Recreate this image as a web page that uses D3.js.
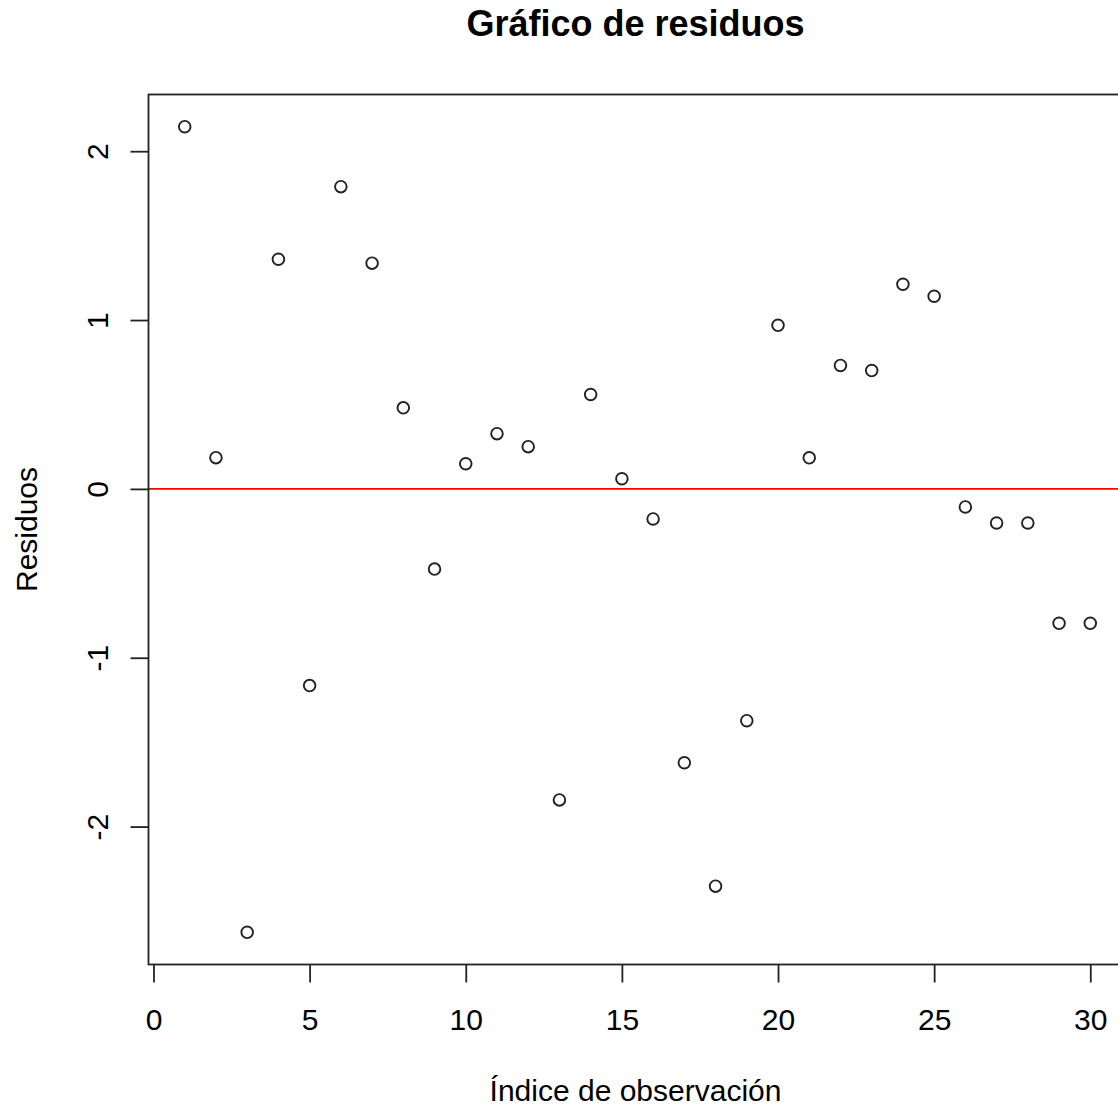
<!DOCTYPE html>
<html>
<head>
<meta charset="utf-8">
<script src="https://cdn.jsdelivr.net/npm/d3@7"></script>
<style>
  body { margin: 0; background: #fff; }
  text { font-family: "Liberation Sans", Arial, sans-serif; fill: #000; }
</style>
</head>
<body>
<script>
var obsIndex = [1, 2, 3, 4, 5, 6, 7, 8, 9, 10, 11, 12, 13, 14, 15,
                16, 17, 18, 19, 20, 21, 22, 23, 24, 25, 26, 27, 28, 29, 30];
var residuos = [2.145, 0.185, -2.626, 1.36, -1.165, 1.79, 1.337, 0.48, -0.475, 0.149,
                0.327, 0.25, -1.842, 0.559, 0.06, -0.178, -1.622, -2.353, -1.373, 0.969,
                0.184, 0.731, 0.701, 1.212, 1.141, -0.107, -0.202, -0.202, -0.796, -0.796];
var xTicks = [0, 5, 10, 15, 20, 25, 30];
var yTicks = [-2, -1, 0, 1, 2];

function init() {
    var W = 1118, H = 1107;
    var boxLeft = 148.5, boxRight = 1126.5, boxTop = 94.5, boxBottom = 964.5;

    // R style 4% extension of the data range
    function padExtent(arr) {
        var e = d3.extent(arr);
        var d = (e[1] - e[0]) * 0.04;
        return [e[0] - d, e[1] + d];
    }

    // plain hyphen for negatives, like R
    var fmt = function(d) { return String(d); };

    var xScale = d3.scaleLinear().domain(padExtent(obsIndex)).range([boxLeft, boxRight]);
    var yScale = d3.scaleLinear().domain(padExtent(residuos)).range([boxBottom, boxTop]);

    var svg = d3.select("body").append("svg")
        .attr("width", W)
        .attr("height", H);

    svg.append("defs").append("clipPath").attr("id", "plotclip")
        .append("rect")
        .attr("x", boxLeft).attr("y", boxTop)
        .attr("width", boxRight - boxLeft).attr("height", boxBottom - boxTop);

    // zero line
    svg.append("line")
        .attr("clip-path", "url(#plotclip)")
        .attr("x1", boxLeft).attr("x2", boxRight)
        .attr("y1", yScale(0)).attr("y2", yScale(0))
        .attr("stroke", "#ff0000")
        .attr("stroke-width", 1.8);

    // points
    svg.selectAll("circle.pt")
        .data(obsIndex)
        .enter()
        .append("circle")
        .attr("class", "pt")
        .attr("cx", function(d) { return xScale(d); })
        .attr("cy", function(d, i) { return yScale(residuos[i]); })
        .attr("r", 5.8)
        .attr("fill", "none")
        .attr("stroke", "#222")
        .attr("stroke-width", 1.9);

    // box
    svg.append("rect")
        .attr("x", boxLeft).attr("y", boxTop)
        .attr("width", boxRight - boxLeft).attr("height", boxBottom - boxTop)
        .attr("fill", "none")
        .attr("stroke", "#222")
        .attr("stroke-width", 1.8);

    // X axis
    var xAxis = svg.append("g")
        .attr("transform", "translate(0," + boxBottom + ")")
        .call(d3.axisBottom(xScale).tickValues(xTicks).tickSize(18).tickFormat(fmt));
    xAxis.select(".domain").remove();
    xAxis.selectAll(".tick line").attr("stroke", "#222").attr("stroke-width", 1.8);
    xAxis.selectAll(".tick text")
        .attr("y", 65)
        .attr("dy", 0)
        .attr("font-size", 30)
        .attr("fill", "#000");

    // Y axis
    var yAxis = svg.append("g")
        .attr("transform", "translate(" + boxLeft + ",0)")
        .call(d3.axisLeft(yScale).tickValues(yTicks).tickSize(18).tickFormat(fmt));
    yAxis.select(".domain").remove();
    yAxis.selectAll(".tick line").attr("stroke", "#222").attr("stroke-width", 1.8);
    yAxis.selectAll(".tick text")
        .attr("transform", "rotate(-90)")
        .attr("x", 0)
        .attr("y", -41)
        .attr("dy", 0)
        .attr("text-anchor", "middle")
        .attr("font-size", 30)
        .attr("fill", "#000");

    // title
    svg.append("text")
        .attr("x", (boxLeft + boxRight) / 2 - 2)
        .attr("y", 36)
        .attr("text-anchor", "middle")
        .attr("font-size", 36)
        .attr("font-weight", "bold")
        .text("Gráfico de residuos");

    // X label
    svg.append("text")
        .attr("x", (boxLeft + boxRight) / 2 - 2)
        .attr("y", 1101)
        .attr("text-anchor", "middle")
        .attr("font-size", 30)
        .text("Índice de observación");

    // Y label
    svg.append("text")
        .attr("transform", "rotate(-90)")
        .attr("x", -(boxTop + boxBottom) / 2)
        .attr("y", 36.5)
        .attr("text-anchor", "middle")
        .attr("font-size", 30)
        .text("Residuos");
}
init();
</script>
</body>
</html>
